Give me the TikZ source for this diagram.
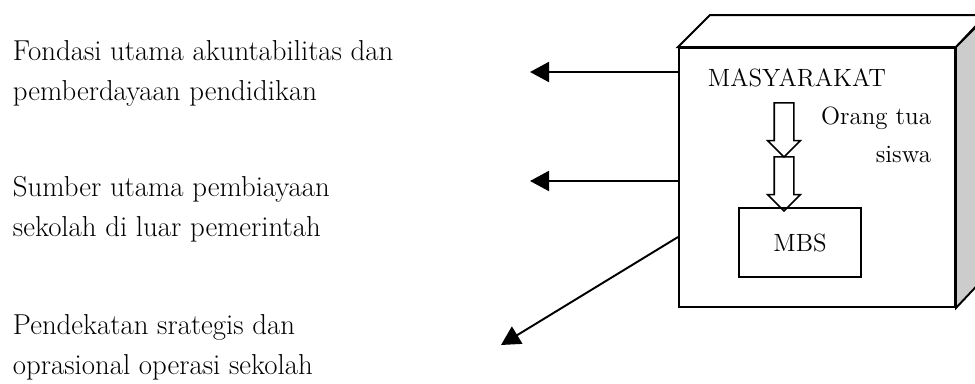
\documentclass[tikz,border=0pt]{standalone}
\usepackage{xcolor}
\usepackage{tikz}
\usetikzlibrary{shapes, shapes.arrows, arrows.meta, positioning}

\begin{document}
\begin{tikzpicture}[
        line width=1.1pt,
        desc/.style={anchor=west, align=left, font=\fontsize{16.4}{22.7}\selectfont, inner sep=0pt},
        outarrow/.style={-{Triangle[length=0.38cm, width=0.4cm]}},
        cube/.style={rectangle, draw, minimum width=5.52cm, minimum height=5.18cm, fill=white},
        flow/.style={single arrow, draw, line width=0.9pt, shape border rotate=270,
            minimum height=1.08cm, single arrow head extend=0.13cm,
            inner sep=0.18cm, outer sep=0pt}
        ]
        \useasboundingbox (0,0) rectangle (19.5,-7.68);
        \clip (0,0) rectangle (19.5,-7.68);

        % Community box (cube)
        \node[cube] (masy) at (16.34,-3.55) {};
        \draw[fill=white] (masy.north west) -- ++(0.64,0.64) -- ++(5.52,0)
            -- (masy.north east) -- cycle;
        \draw[fill=gray!40] (masy.north east) -- ++(0.64,0.64) -- ++(0,-5.18)
            -- (masy.south east) -- cycle;

        % Inside the box
        \node[font=\fontsize{14.2}{17}\selectfont, inner sep=0pt] (label) at (15.94,-1.56) {MASYARAKAT};
        \node[flow] (flow1) at (15.68,-2.5) {};
        \node[flow, below=0pt of flow1] (flow2) {};
        \node[draw, minimum width=2.44cm, minimum height=1.38cm,
            font=\fontsize{14.2}{17}\selectfont] (mbs) at (16.0,-4.85) {MBS};
        \node[anchor=east, align=right, inner sep=0pt,
            font=\fontsize{14.2}{21.6}\selectfont] (ortu) at (18.64,-2.7) {Orang tua\\siswa};

        % Roles
        \node[desc] (peran1) at (0.24,-1.46) {Fondasi utama akuntabilitas dan\\pemberdayaan pendidikan};
        \node[desc] (peran2) at (0.24,-4.18) {Sumber utama pembiayaan\\sekolah di luar pemerintah};
        \node[desc] (peran3) at (0.24,-6.94) {Pendekatan srategis dan\\oprasional operasi sekolah};

        % Arrow ends
        \coordinate (tip1) at (10.6,-1.44);
        \coordinate (tip2) at (10.6,-3.62);
        \coordinate (tip3) at (10.02,-6.9);

        % Connections
        \draw[outarrow] (masy.west |- tip1) -- (tip1);
        \draw[outarrow] (masy.west |- tip2) -- (tip2);
        \draw[outarrow] (masy.west |- 0,-4.74) -- (tip3);

\end{tikzpicture}
\end{document}
